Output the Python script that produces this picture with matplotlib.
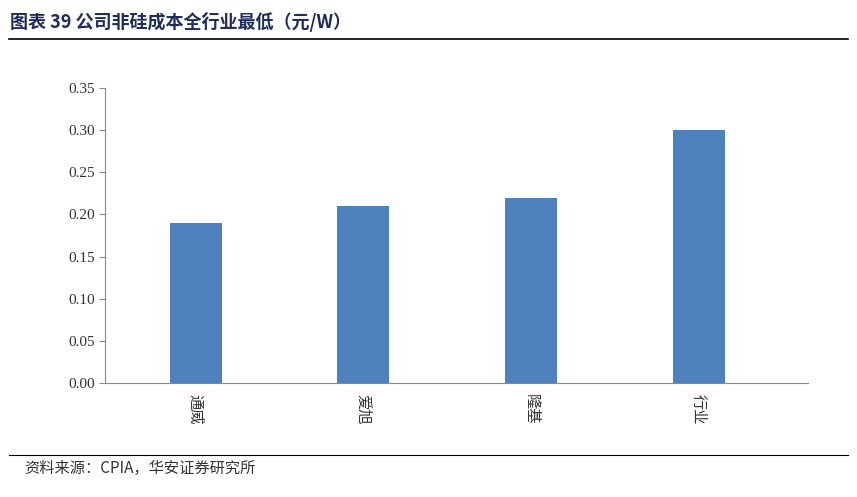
import matplotlib.pyplot as plt
from matplotlib.lines import Line2D

plt.rcParams['font.family'] = ['Liberation Serif', 'Noto Sans CJK SC', 'DejaVu Sans']

# Data
categories = ['通威', '爱旭', '隆基', '行业']
costs = [0.19, 0.21, 0.22, 0.30]
yticks = [0.00, 0.05, 0.10, 0.15, 0.20, 0.25, 0.30, 0.35]

fig = plt.figure(figsize=(8.57, 4.97), dpi=100)
ax = fig.add_axes([0.1225, 0.229, 0.82, 0.594])

x = range(len(categories))
ax.bar(x, costs, width=0.31, color='#4F81BD')

ax.set_xlim(-0.54, 3.65)
ax.set_ylim(0, 0.35)
ax.set_yticks(yticks)
ax.set_yticklabels([f'{v:.2f}' for v in yticks], fontsize=11, color='#333333')
ax.set_xticks(list(x))
ax.set_xticklabels(categories, rotation=-90, fontsize=11,
                   family=['Noto Sans CJK SC'], color='#333333')
ax.tick_params(axis='x', length=0, pad=8)
ax.tick_params(axis='y', length=4, direction='out', color='#888888')
for s in ['top', 'right']:
    ax.spines[s].set_visible(False)
for s in ['left', 'bottom']:
    ax.spines[s].set_color('#888888')

# Title, rules and source
fig.text(0.012, 0.955, '图表 39 公司非硅成本全行业最低（元/W）', fontsize=13,
         fontweight='bold', color='#1F2D5A', va='center',
         family=['Noto Sans CJK SC'])
fig.add_artist(Line2D([0.01, 0.99], [0.922, 0.922], color='black', lw=1.2))
fig.add_artist(Line2D([0.01, 0.99], [0.085, 0.085], color='black', lw=0.8))
fig.text(0.028, 0.057, '资料来源：CPIA，华安证券研究所', fontsize=11,
         color='#333333', va='center', family=['Noto Sans CJK SC'])

fig.savefig('out.png', dpi=100)
